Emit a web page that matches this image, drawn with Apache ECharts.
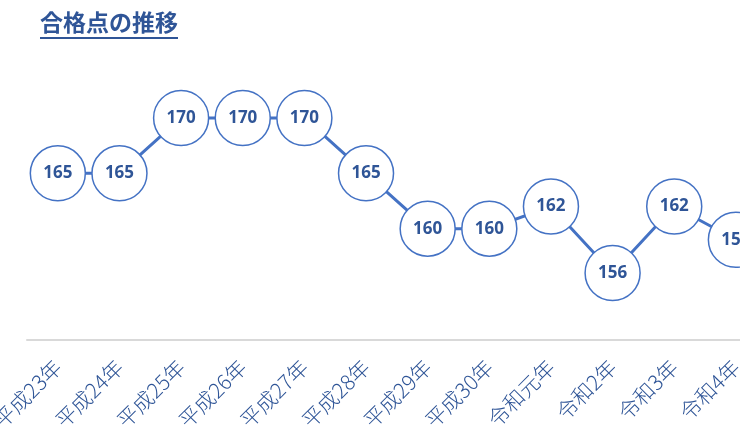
<!DOCTYPE html>
<html><head><meta charset="utf-8">
<script src="https://cdn.jsdelivr.net/npm/echarts@6/dist/echarts.min.js"></script>
<style>html,body{margin:0;padding:0;background:#fff}#c{width:740px;height:438px}</style>
</head><body><div id="c"></div>
<script>
const categories = ['平成23年','平成24年','平成25年','平成26年','平成27年','平成28年','平成29年','平成30年','令和元年','令和2年','令和3年','令和4年'];
const passScores = [165,165,170,170,170,165,160,160,162,156,162,159];
const titleText = '合格点の推移';

const chart = echarts.init(document.getElementById('c'));
chart.setOption({
  animation: false,
  backgroundColor: '#fff',
  title: {
    text: titleText, left: 40, top: 11, padding: 0,
    textStyle: {fontFamily: 'Noto Sans CJK JP', fontSize: 23, fontWeight: 'bold', color: '#2F5597'}
  },
  graphic: [{type: 'rect', shape: {x: 40, y: 37, width: 138, height: 2}, style: {fill: '#2F5597'}}],
  grid: {left: 27, width: 739.7, top: 62.6, bottom: 98.6, containLabel: false, outerBoundsMode: 'none'},
  xAxis: {
    type: 'category', data: categories, boundaryGap: true,
    axisLine: {lineStyle: {color: '#d9d9d9', width: 2}},
    axisTick: {show: false},
    axisLabel: {rotate: 45, interval: 0, margin: 24, fontFamily: 'Noto Sans CJK JP', fontWeight: 300, fontSize: 21, color: '#2F5597'}
  },
  yAxis: {
    type: 'value', min: 150, max: 175, interval: 5, show: false,
    splitLine: {show: false}
  },
  series: [{
    type: 'line', data: passScores,
    lineStyle: {color: '#4472C4', width: 3},
    symbol: 'circle', symbolSize: 55,
    itemStyle: {color: '#fff', borderColor: '#4472C4', borderWidth: 1.5},
    label: {show: true, position: 'inside', fontFamily: 'Noto Sans', fontWeight: 'bold', fontSize: 17, color: '#2F5597'}
  }]
});
</script></body></html>
